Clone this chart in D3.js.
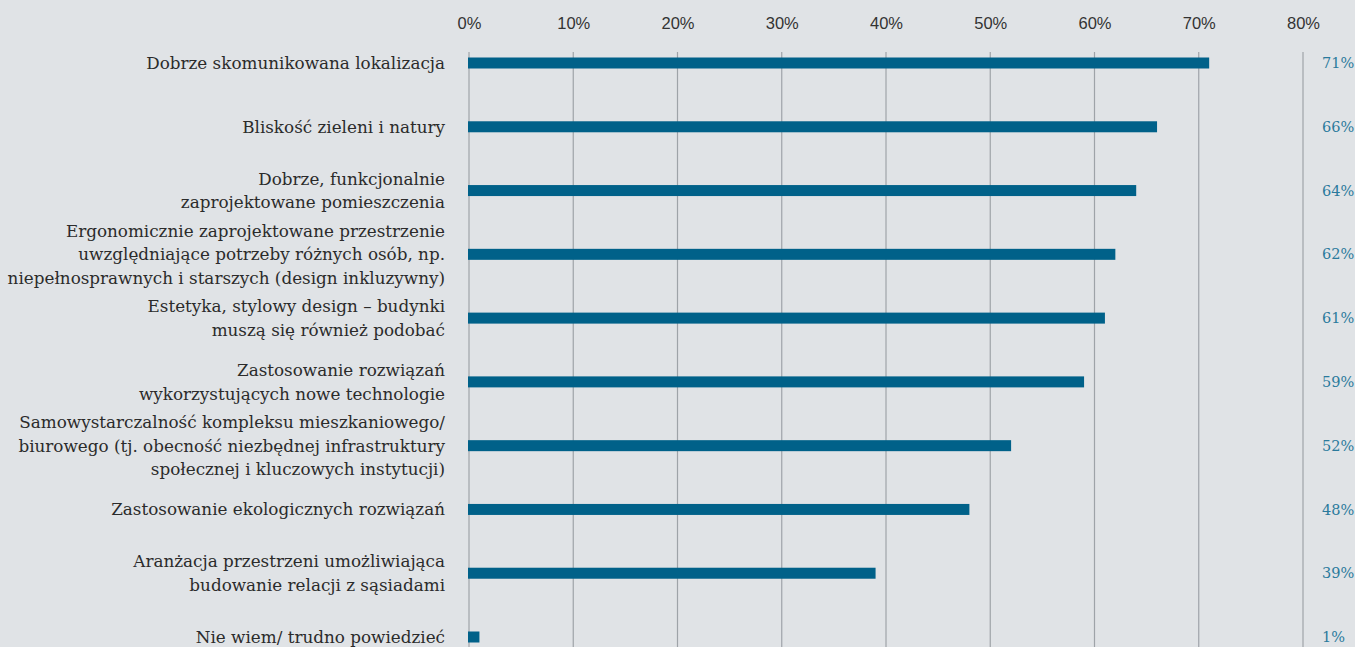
<!DOCTYPE html>
<html><head><meta charset="utf-8">
<script src="https://cdn.jsdelivr.net/npm/d3@7/dist/d3.min.js"></script>
<style>
html,body{margin:0;padding:0;background:#e0e3e6;}
svg{display:block;}
</style></head>
<body>
<svg id="chart" width="1355" height="647"></svg>
<script>
const categories = [
  "Dobrze skomunikowana lokalizacja",
  "Bliskość zieleni i natury",
  "Dobrze, funkcjonalnie\nzaprojektowane pomieszczenia",
  "Ergonomicznie zaprojektowane przestrzenie\nuwzględniające potrzeby różnych osób, np.\nniepełnosprawnych i starszych (design inkluzywny)",
  "Estetyka, stylowy design – budynki\nmuszą się również podobać",
  "Zastosowanie rozwiązań\nwykorzystujących nowe technologie",
  "Samowystarczalność kompleksu mieszkaniowego/\nbiurowego (tj. obecność niezbędnej infrastruktury\nspołecznej i kluczowych instytucji)",
  "Zastosowanie ekologicznych rozwiązań",
  "Aranżacja przestrzeni umożliwiająca\nbudowanie relacji z sąsiadami",
  "Nie wiem/ trudno powiedzieć"
];
const values = [71, 66, 64, 62, 61, 59, 52, 48, 39, 1];
const tickValues = [0, 10, 20, 30, 40, 50, 60, 70, 80];

const svg = d3.select("#chart");
const x = d3.scaleLinear().domain([0, 80]).range([469, 1303]);
const y = d3.scalePoint().domain(categories).range([63, 637]);
const barH = 11;
const slab = "'DejaVu Serif', serif";

// gridlines
svg.append("g").selectAll("line").data(tickValues).join("line")
  .attr("x1", d => x(d)).attr("x2", d => x(d))
  .attr("y1", 52).attr("y2", 647)
  .attr("stroke", "#9ea3a8").attr("stroke-width", 1.2);

// top axis labels
const axis = d3.axisTop(x).tickValues(tickValues).tickFormat(d => d + "%").tickSize(0);
const ag = svg.append("g").attr("transform", "translate(0,32)").call(axis);
ag.select(".domain").remove();
ag.selectAll("text").attr("font-family", "'Liberation Sans', sans-serif")
  .attr("font-size", 16.5).attr("fill", "#333");

// bars
svg.append("g").selectAll("rect").data(values).join("rect")
  .attr("x", x(0) - 1)
  .attr("y", (d, i) => y(categories[i]) - barH / 2)
  .attr("width", d => x(d) - x(0) + 1)
  .attr("height", barH)
  .attr("fill", "#006189");

// category labels
const lh = 23.5;
const lg = svg.append("g");
categories.forEach(c => {
  const lines = c.split("\n");
  const t = lg.append("text")
    .attr("x", 445).attr("text-anchor", "end")
    .attr("font-family", slab).attr("font-size", 16.8).attr("fill", "#2b2b2b");
  const y0 = y(c) - (lines.length - 1) * lh / 2;
  lines.forEach((ln, k) => {
    t.append("tspan").attr("x", 445).attr("y", y0 + k * lh).attr("dy", "0.35em").text(ln);
  });
});

// value labels
svg.append("g").selectAll("text").data(values).join("text")
  .attr("x", 1322).attr("y", (d, i) => y(categories[i]))
  .attr("dy", "0.35em")
  .attr("font-family", slab).attr("font-size", 14.5).attr("fill", "#2a7a9c")
  .text(d => d + "%");
</script>
</body></html>
